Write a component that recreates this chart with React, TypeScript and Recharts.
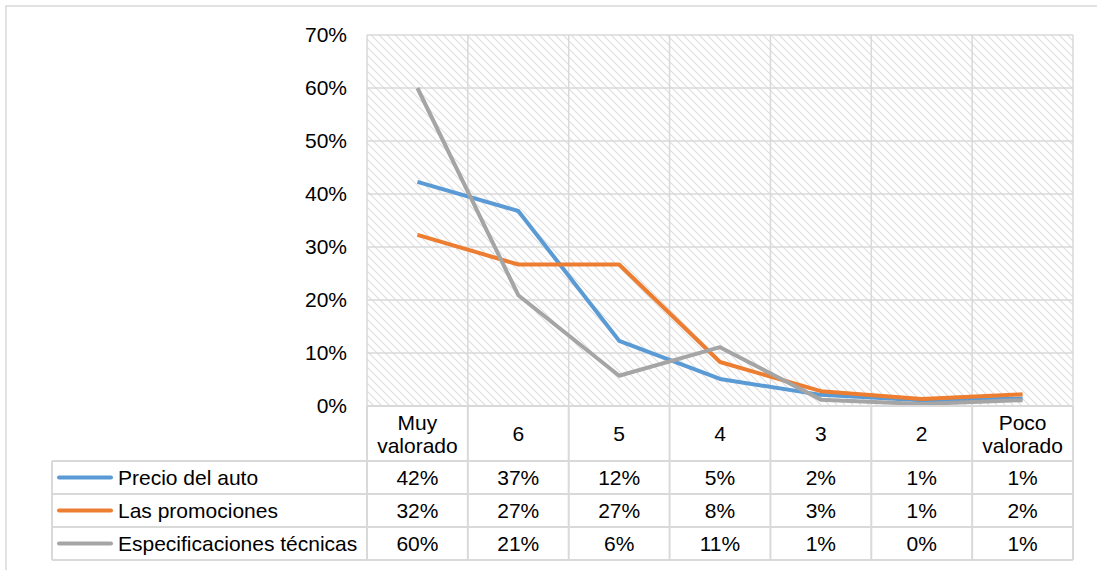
import React from 'react';
import { LineChart, Line, XAxis, YAxis, CartesianGrid } from 'recharts';

// Categories along the horizontal axis (from most to least valued)
const categories = ['Muy valorado', '6', '5', '4', '3', '2', 'Poco valorado'];

// Share of respondents per rating, in percent
const precioDelAuto = [42.3, 36.8, 12.3, 5.1, 2.1, 1.1, 1.4];
const lasPromociones = [32.3, 26.7, 26.7, 8.3, 2.8, 1.3, 2.2];
const especificacionesTecnicas = [60.0, 20.9, 5.7, 11.1, 1.2, 0.4, 1.1];

const yTicks = [0, 10, 20, 30, 40, 50, 60, 70];

const series = [
  { key: 'precio', name: 'Precio del auto', values: precioDelAuto, color: '#5B9BD5' },
  { key: 'promociones', name: 'Las promociones', values: lasPromociones, color: '#ED7D31' },
  { key: 'especificaciones', name: 'Especificaciones técnicas', values: especificacionesTecnicas, color: '#A5A5A5' },
];

const data = categories.map((category, i) => {
  const row: Record<string, string | number> = { category };
  series.forEach((s) => {
    row[s.key] = s.values[i];
  });
  return row;
});

// Layout
const WIDTH = 1097;
const HEIGHT = 570;
const PLOT_LEFT = 367;
const PLOT_RIGHT = 1073;
const PLOT_TOP = 35;
const PLOT_BOTTOM = 406;
const Y_AXIS_WIDTH = 60;
const HEADER_H = 55;
const ROW_H = 33;
const TABLE_LEFT = 52;
const TABLE_BOTTOM = PLOT_BOTTOM + HEADER_H + ROW_H * series.length;
const COL_W = (PLOT_RIGHT - PLOT_LEFT) / categories.length;

const FONT = '"Liberation Sans", Arial, Helvetica, sans-serif';
const FONT_SIZE = 21;
const TEXT = '#000000';
const RULE = '#d9d9d9';

const fmt = (v: number) => `${Math.round(v)}%`;

// Data table drawn under the plot, one column per category tick
const TableTick = (props: any) => {
  const { x, payload } = props;
  const index: number = payload.index;
  const cx = x;
  const left = cx - COL_W / 2;
  const right = cx + COL_W / 2;
  const top = PLOT_BOTTOM;
  const headerBottom = top + HEADER_H;
  const words = String(payload.value).split(' ');
  const lineGap = 23;

  return (
    <g fontFamily={FONT} fontSize={FONT_SIZE} fill={TEXT}>
      {/* header text */}
      {words.map((w, k) => (
        <text
          key={k}
          x={cx}
          y={top + HEADER_H / 2 + (k - (words.length - 1) / 2) * lineGap}
          textAnchor="middle"
          dominantBaseline="central"
        >
          {w}
        </text>
      ))}
      {/* values */}
      {series.map((s, r) => (
        <text
          key={s.key}
          x={cx}
          y={headerBottom + ROW_H * r + ROW_H / 2}
          textAnchor="middle"
          dominantBaseline="central"
        >
          {fmt(s.values[index])}
        </text>
      ))}
      {/* cell rules */}
      <line x1={right} y1={top} x2={right} y2={TABLE_BOTTOM} stroke={RULE} strokeWidth={2} />
      {index === 0 && (
        <line x1={left} y1={top} x2={left} y2={TABLE_BOTTOM} stroke={RULE} strokeWidth={2} />
      )}
      {series.map((s, r) => (
        <line
          key={`h${s.key}`}
          x1={left}
          y1={headerBottom + ROW_H * r}
          x2={right}
          y2={headerBottom + ROW_H * r}
          stroke={RULE}
          strokeWidth={2}
        />
      ))}
      <line x1={left} y1={TABLE_BOTTOM} x2={right} y2={TABLE_BOTTOM} stroke={RULE} strokeWidth={2} />

      {/* legend column */}
      {index === 0 && (
        <g>
          <line x1={TABLE_LEFT} y1={headerBottom} x2={TABLE_LEFT} y2={TABLE_BOTTOM} stroke={RULE} strokeWidth={2} />
          {series.map((s, r) => {
            const rowTop = headerBottom + ROW_H * r;
            const midY = rowTop + ROW_H / 2;
            return (
              <g key={`lg${s.key}`}>
                <line x1={TABLE_LEFT} y1={rowTop} x2={left} y2={rowTop} stroke={RULE} strokeWidth={2} />
                <line
                  x1={TABLE_LEFT + 7}
                  y1={midY}
                  x2={TABLE_LEFT + 59}
                  y2={midY}
                  stroke={s.color}
                  strokeWidth={4}
                  strokeLinecap="round"
                />
                <text x={TABLE_LEFT + 66} y={midY} textAnchor="start" dominantBaseline="central">
                  {s.name}
                </text>
              </g>
            );
          })}
          <line x1={TABLE_LEFT} y1={TABLE_BOTTOM} x2={left} y2={TABLE_BOTTOM} stroke={RULE} strokeWidth={2} />
        </g>
      )}
    </g>
  );
};

export default function App() {
  return (
    <div style={{ position: 'absolute', left: 0, top: 0, width: WIDTH, height: HEIGHT, background: '#fff' }}>
      <LineChart
        width={WIDTH}
        height={HEIGHT}
        data={data}
        margin={{
          top: PLOT_TOP,
          right: WIDTH - PLOT_RIGHT,
          left: PLOT_LEFT - Y_AXIS_WIDTH,
          bottom: HEIGHT - TABLE_BOTTOM,
        }}
      >
        <defs>
          <pattern id="diagHatch" patternUnits="userSpaceOnUse" width={8} height={8}>
            <rect x={0} y={0} width={8} height={8} fill="#ffffff" />
            <path d="M-1,-1 L9,9 M-1,7 L1,9 M7,-1 L9,1" stroke="#dedede" strokeWidth={1.1} />
          </pattern>
        </defs>
        <rect x={6} y={6} width={1200} height={700} fill="none" stroke={RULE} strokeWidth={1.5} />
        <CartesianGrid
          fill="url(#diagHatch)"
          fillOpacity={1}
          stroke={RULE}
          strokeWidth={1.5}
          verticalCoordinatesGenerator={({ offset }: any) =>
            categories.map((_, i) => offset.left + (i * offset.width) / categories.length).concat(offset.left + offset.width)
          }
        />
        <XAxis
          dataKey="category"
          height={TABLE_BOTTOM - PLOT_BOTTOM}
          padding={{ left: COL_W / 2, right: COL_W / 2 }}
          axisLine={{ stroke: RULE, strokeWidth: 2 }}
          tickLine={false}
          tickSize={0}
          tickMargin={0}
          interval={0}
          tick={<TableTick />}
        />
        <YAxis
          width={Y_AXIS_WIDTH}
          domain={[0, 70]}
          ticks={yTicks}
          tickFormatter={(v: number) => `${v}%`}
          axisLine={false}
          tickLine={false}
          tickMargin={14}
          tick={{ fontFamily: FONT, fontSize: FONT_SIZE, fill: TEXT }}
        />
        {series.map((s) => (
          <Line
            key={s.key}
            dataKey={s.key}
            name={s.name}
            type="linear"
            stroke={s.color}
            strokeWidth={4}
            strokeLinejoin="round"
            dot={false}
            activeDot={false}
            isAnimationActive={false}
          />
        ))}
      </LineChart>
    </div>
  );
}
